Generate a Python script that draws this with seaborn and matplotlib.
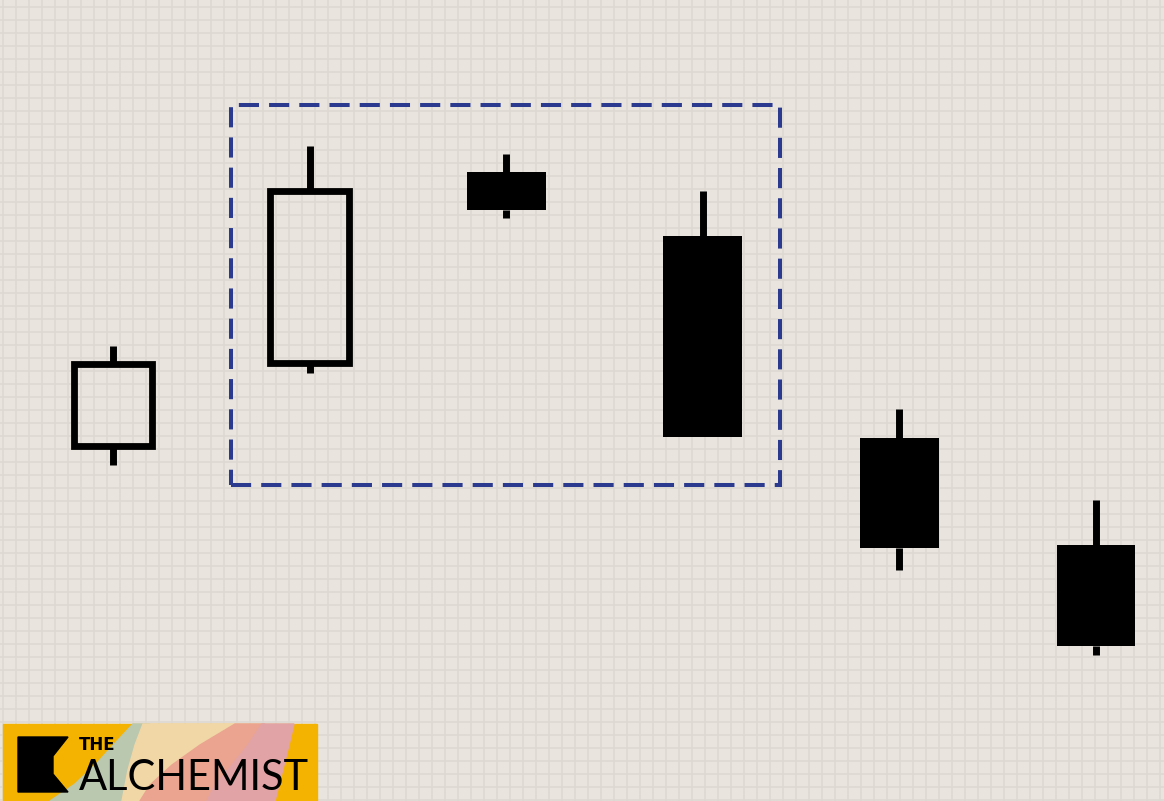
import numpy as np
import matplotlib
matplotlib.use("Agg")
import matplotlib.pyplot as plt
import seaborn as sns
from matplotlib.patches import Rectangle, Polygon

# candle data (price units)
candle_idx = [1, 2, 3, 4, 5, 6]
opens = [35.5, 43.8, 62.9, 56.5, 36.3, 25.6]
closes = [43.7, 61.0, 59.1, 36.4, 25.3, 15.5]
highs = [45.5, 65.5, 64.7, 61.0, 39.2, 30.1]
lows = [33.6, 42.8, 58.3, 36.4, 23.1, 14.6]

# highlighted pattern (candles 2-4)
box_x = [1.60, 4.393]
box_y = [31.6, 69.6]

bg = "#E9E5DE"
grid_c = "#DDD9D2"

sns.set_theme(style="white", rc={"axes.facecolor": bg, "figure.facecolor": bg})

fig = plt.figure(figsize=(11.64, 8.01), dpi=100)

# background grid in pixel space
ax_bg = fig.add_axes([0, 0, 1, 1])
ax_bg.set_xlim(0, 1164)
ax_bg.set_ylim(801, 0)
ax_bg.set_xticks(np.arange(3, 1164, 13))
ax_bg.set_yticks(np.arange(7, 801, 13))
ax_bg.grid(True, color=grid_c, linewidth=1.1)
ax_bg.tick_params(length=0, labelbottom=False, labelleft=False)
ax_bg.set_axisbelow(True)
for s in ax_bg.spines.values():
    s.set_visible(False)

# logo
ax_bg.add_patch(Rectangle((3, 724), 314, 77, color="#F4B300", zorder=2))
bands = [
    ("#B9C8AF", [(133, 724), (150, 724), (140, 745), (128, 770), (122, 801), (50, 801), (75, 784), (98, 762), (118, 740)]),
    ("#F1D6A6", [(143, 724), (240, 724), (200, 745), (172, 765), (150, 785), (140, 801), (122, 801), (128, 770), (135, 745)]),
    ("#EAA48F", [(235, 724), (265, 724), (248, 745), (232, 765), (215, 785), (207, 801), (140, 801), (150, 785), (172, 765), (200, 745)]),
    ("#E2A3A6", [(262, 724), (294, 724), (289, 745), (284, 765), (279, 785), (275, 801), (207, 801), (215, 785), (232, 765), (248, 745)]),
]
for col, pts in bands:
    ax_bg.add_patch(Polygon(pts, closed=True, color=col, zorder=3))
ax_bg.add_patch(Polygon([(18, 737), (68, 737), (53, 756), (53, 774), (68, 792), (18, 792)],
                        closed=True, color="black", zorder=4))
ax_bg.text(79, 750, "THE", fontsize=12, fontweight="bold", color="black",
           family="DejaVu Sans", va="baseline", ha="left", zorder=5)
ax_bg.text(79, 790, "ALCHEMIST", fontsize=30, fontweight="normal", color="black",
           family="Lato", va="baseline", ha="left", zorder=5)

# candles
ax = fig.add_axes([0, 0, 1, 1])
ax.patch.set_alpha(0)
ax.set_xlim(0.4252, 6.346)
ax.set_ylim(0, 80.1)
ax.axis("off")

w = 0.4
for i, o, c, h, l in zip(candle_idx, opens, closes, highs, lows):
    top, bot = max(o, c), min(o, c)
    ax.vlines(i, top, h, color="black", linewidth=5, zorder=2)
    ax.vlines(i, l, bot, color="black", linewidth=5, zorder=2)
    if c > o:
        ax.add_patch(Rectangle((i - w / 2, bot), w, top - bot, facecolor="none",
                               edgecolor="black", linewidth=4.9, zorder=3))
    else:
        ax.add_patch(Rectangle((i - w / 2, bot), w, top - bot, facecolor="black",
                               edgecolor="none", zorder=3))

ax.add_patch(Rectangle((box_x[0], box_y[0]), box_x[1] - box_x[0], box_y[1] - box_y[0],
                       facecolor="none", edgecolor="#2B3A8E", linewidth=2.9,
                       linestyle=(0, (5, 2.5)), zorder=4))

fig.savefig("out.png", dpi=100, facecolor=bg)
